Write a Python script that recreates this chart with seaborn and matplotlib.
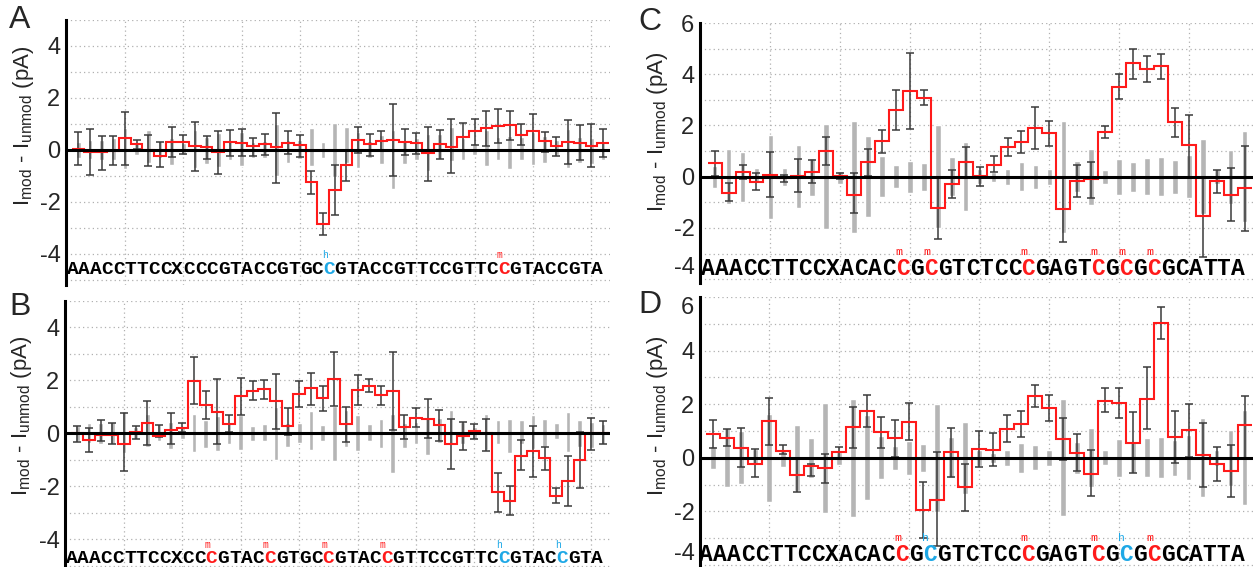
"""Current difference steps for four sequences, with error bars and noise range."""

import numpy as np
import seaborn as sns
import matplotlib.pyplot as plt
from matplotlib import font_manager

# sequences read along the bottom of each panel
seq_ab = "AAACCTTCCXCCCGTACCGTGCCGTACCGTTCCGTTCCGTACCGTA"
seq_cd = "AAACCTTCCXACACCGCGTCTCCCGAGTCGCGCGCATTA"

# (position, superscript) of the modified C's
marks_a = [(23, 'h'), (38, 'm')]
marks_b = [(13, 'm'), (18, 'm'), (23, 'm'), (28, 'm'), (38, 'h'), (43, 'h')]
marks_c = [(15, 'm'), (17, 'm'), (24, 'm'), (29, 'm'), (31, 'm'), (33, 'm')]
marks_d = [(15, 'm'), (17, 'h'), (24, 'm'), (29, 'm'), (31, 'h'), (33, 'm')]

# panel A: mean difference and error bar ends (pA)
a_val = [0.02, -0.08, -0.1, -0.05, 0.45, 0.22, 0.0, -0.23, 0.32, 0.32, 0.15, 0.1,
         -0.09, 0.32, 0.28, 0.15, 0.23, 0.1, 0.28, 0.18, -1.25, -2.85, -1.56, -0.6,
         0.38, 0.22, 0.35, 0.38, 0.32, 0.26, -0.13, 0.22, 0.13, 0.51, 0.73, 0.83,
         0.92, 0.96, 0.58, 0.73, 0.36, 0.15, 0.29, 0.26, 0.15, 0.26]
a_lo = [-0.6, -0.96, -0.79, -0.58, -0.58, 0.05, -0.62, -0.65, -0.26, -0.15, -0.8, -0.36,
        -0.92, -0.23, -0.23, -0.23, -0.19, -1.28, -0.15, -0.26, -1.7, -3.28, -2.5, -1.2,
        -0.13, -0.23, -0.06, -1.0, -0.19, -0.15, -1.18, -0.36, -0.87, -0.06, 0.2, 0.15,
        0.26, 0.38, 0.2, -0.06, -0.1, -0.23, -0.54, -0.38, -0.64, -0.26]
a_hi = [0.68, 0.81, 0.55, 0.54, 1.44, 0.4, 0.58, 0.3, 0.9, 0.58, 1.06, 0.55,
        0.73, 0.77, 0.8, 0.47, 0.6, 1.41, 0.73, 0.58, -0.8, -2.41, -0.6, 0.0,
        0.87, 0.6, 0.73, 1.77, 0.8, 0.64, 0.9, 0.77, 1.18, 1.03, 1.19, 1.51,
        1.56, 1.51, 1.0, 1.37, 0.7, 0.51, 1.15, 0.96, 1.0, 0.8]

# panel B
b_val = [0.0, -0.25, -0.04, -0.04, -0.38, 0.06, 0.4, -0.09, 0.13, 0.19, 1.99, 1.09,
         0.82, 0.34, 1.42, 1.61, 1.66, 1.22, 0.28, 1.48, 1.7, 1.35, 2.05, 0.35,
         1.65, 1.81, 1.44, 1.6, 0.25, 0.6, 0.56, 0.31, -0.38, -0.1, 0.08, 0.02,
         -2.22, -2.54, -0.84, -0.66, -0.94, -2.35, -1.79, -1.0, 0.0, 0.0]
b_lo = [-0.31, -0.69, -0.28, -0.38, -1.41, -0.19, -0.44, -0.13, -0.4, 0.06, 1.13, 0.54,
        -0.38, 0.04, 0.69, 1.26, 1.3, 0.16, -0.06, 1.0, 1.07, 0.86, 1.03, -0.31,
        1.06, 1.56, 1.06, 0.12, -0.19, 0.25, -0.16, -0.28, -1.34, -0.63, -0.21, -0.65,
        -2.96, -3.06, -1.38, -1.63, -1.38, -2.63, -2.75, -2.06, -0.63, -0.41]
b_hi = [0.28, 0.19, 0.5, 0.4, 0.79, 0.29, 1.22, 0.31, 0.78, 0.4, 2.87, 1.61,
        2.04, 0.69, 2.11, 1.97, 2.01, 2.24, 0.97, 1.97, 2.29, 1.79, 3.08, 1.0,
        2.22, 2.06, 1.81, 3.09, 0.69, 0.96, 1.31, 0.88, 0.56, 0.44, 0.34, 0.54,
        -1.48, -1.98, -0.23, 0.28, -0.5, -2.06, -0.84, 0.06, 0.59, 0.46]

# panel C
c_val = [0.53, -0.64, 0.19, -0.19, 0.08, -0.06, 0.04, 0.19, 0.99, 0.02, -0.7, 0.56, 1.38,
         2.6, 3.35, 3.09, -1.23, -0.29, 0.56, 0.04, 0.47, 1.17, 1.36, 1.92, 1.69, -1.26,
         -0.16, -0.09, 1.75, 3.52, 4.42, 4.19, 4.32, 2.14, 1.23, -1.55, -0.16, -0.7, -0.45]
c_lo = [0.04, -0.96, -0.09, -0.51, -0.78, -0.19, -0.61, -0.26, 0.47, -0.09, -1.43, 0.04, 0.92,
        1.82, 1.86, 2.79, -2.43, -0.83, -0.02, -0.35, 0.17, 0.82, 0.91, 1.1, 1.21, -2.53,
        -0.81, -0.83, 1.53, 3.03, 3.81, 3.68, 3.83, 1.56, 0.0, -3.12, -0.64, -1.74, -2.13]
c_hi = [1.02, -0.26, 0.45, 0.14, 0.97, 0.08, 0.71, 0.66, 1.56, 0.14, 0.13, 1.08, 1.83,
        3.39, 4.84, 3.38, -0.03, 0.27, 1.14, 0.39, 0.82, 1.53, 1.79, 2.73, 2.18, -0.03,
        0.45, 0.58, 1.96, 4.0, 4.97, 4.71, 4.78, 2.7, 2.42, 0.0, 0.27, 0.32, 1.21]

# panel D
d_val = [0.9, 0.75, 0.38, -0.22, 1.38, 0.25, -0.66, -0.31, -0.38, 0.21, 1.13, 1.73, 0.96,
         0.75, 1.35, -1.94, -1.56, 0.21, -1.09, 0.34, 0.29, 1.09, 1.25, 2.31, 1.85, 0.71,
         0.19, -0.59, 2.13, 2.06, 0.54, 2.21, 5.04, 0.78, 1.04, 0.09, -0.25, -0.5, 1.23]
d_lo = [0.38, 0.44, -0.35, -0.73, 0.46, 0.13, -1.28, -0.69, -0.96, 0.0, 0.38, 1.13, 0.38,
        0.04, 0.66, -2.98, -3.31, -0.73, -1.98, -0.35, -0.31, 0.59, 0.79, 1.9, 1.38, -0.1,
        -0.48, -1.44, 1.69, 1.5, -0.56, 1.06, 4.44, -0.21, 0.03, -1.09, -0.88, -1.46, 0.0]
d_hi = [1.4, 1.06, 1.1, 0.31, 2.23, 0.48, -0.05, -0.25, 0.15, 0.4, 1.88, 2.34, 1.53,
        1.41, 2.03, -0.9, 0.21, 1.1, -0.23, 1.0, 0.91, 1.59, 1.75, 2.73, 2.35, 1.5,
        0.88, 0.29, 2.6, 2.59, 1.69, 3.38, 5.63, 1.75, 2.0, 1.29, 0.41, 0.48, 2.29]

# grey noise range, shared by panels on the same sequence
gray_ab_lo = [-0.3, -0.35, -0.4, -0.4, -0.72, -0.2, -0.5, -0.3, -0.6, -0.2, -0.7, -0.55,
              -0.65, -0.4, -0.63, -0.3, -0.3, -1.0, -0.5, -0.35, -0.63, -0.3, -1.05, -0.5,
              -0.68, -0.3, -0.56, -1.5, -0.55, -0.4, -0.81, -0.35, -0.44, -0.4, -0.2, -0.62,
              -0.4, -0.75, -0.4, -0.6, -0.5, -0.2, -0.7, -0.5, -0.55, -0.4]
gray_ab_hi = [0.3, 0.38, 0.4, 0.45, 0.85, 0.25, 0.75, 0.35, 0.45, 0.25, 0.75, 0.5,
              0.65, 0.4, 0.68, 0.3, 0.35, 1.0, 0.38, 0.38, 0.85, 0.32, 1.05, 0.9,
              0.68, 0.35, 0.56, 0.75, 0.4, 0.45, 0.62, 0.6, 0.9, 0.45, 0.25, 0.75,
              0.5, 0.55, 0.5, 0.68, 0.55, 0.38, 0.82, 0.5, 0.45, 0.35]
gray_cd_lo = [-0.43, -1.08, -0.97, -0.24, -1.65, -0.35, -1.24, -0.74, -2.05, -0.28, -2.2,
              -1.58, -0.79, -0.45, -0.64, -0.55, -2.02, -0.76, -1.35, -0.3, -0.19, -0.31,
              -0.57, -0.47, -0.31, -2.18, -0.6, -1.1, -0.29, -0.71, -0.58, -0.71, -0.77,
              -0.68, -0.84, -1.46, -0.3, -1.05, -1.76]
gray_cd_hi = [0.42, 1.1, 0.98, 0.33, 1.64, 0.32, 1.22, 0.74, 2.05, 0.22, 2.18,
              1.58, 0.8, 0.45, 0.63, 0.52, 2.0, 0.78, 1.35, 0.3, 0.18, 0.3,
              0.56, 0.46, 0.3, 2.18, 0.6, 1.1, 0.28, 0.7, 0.58, 0.72, 0.76,
              0.67, 0.84, 1.47, 0.3, 1.05, 1.77]

RED = '#ff1a1a'
BLUE = '#1ea8e6'
GREY = '#b5b5b5'

sns.set_style('white')
names = {f.name for f in font_manager.fontManager.ttflist}
sans = 'Liberation Sans Narrow' if 'Liberation Sans Narrow' in names else 'Liberation Sans'
plt.rcParams['font.family'] = [sans, 'DejaVu Sans']
plt.rcParams['mathtext.fontset'] = 'custom'
plt.rcParams['mathtext.rm'] = sans
plt.rcParams['mathtext.it'] = sans

fig = plt.figure(figsize=(12.53, 5.67), dpi=100)
W, H = 1253, 567


def px_axes(left, top, right, bottom):
    return fig.add_axes([left / W, 1 - bottom / H, (right - left) / W, (bottom - top) / H])


def draw_panel(ax, seq, marks, val, lo, hi, glo, ghi, xlim, ylim, yticks,
               letter_y, seq_size, label_pos):
    n = len(seq)
    pos = np.arange(1, n + 1)
    val, lo, hi = np.array(val), np.array(lo), np.array(hi)
    glo, ghi = np.array(glo), np.array(ghi)

    # grey noise bars
    ax.bar(pos, ghi - glo, bottom=glo, width=0.4, color=GREY, zorder=2)
    # error bars
    ax.errorbar(pos, (lo + hi) / 2, yerr=(hi - lo) / 2, fmt='none', ecolor='#3a3a3a',
                elinewidth=1.1, capsize=3.2, capthick=1.1, zorder=3)
    # red step trace, one bin per base
    ax.stairs(val, np.arange(n + 1) + 0.5, baseline=None, color=RED, lw=1.5, zorder=4)
    ax.axhline(0, color='black', lw=2.2, zorder=5)

    # sequence along the bottom
    colored = dict(marks)
    for i, ch in enumerate(seq, start=1):
        c = 'black'
        if i in colored:
            c = RED if colored[i] == 'm' else BLUE
            ax.annotate(colored[i], xy=(i - 0.5, letter_y), xytext=(-3, seq_size * 0.72),
                        textcoords='offset points', ha='center', va='center',
                        family='Liberation Mono', fontsize=seq_size * 0.5, color=c,
                        zorder=6)
        ax.text(i - 0.5, letter_y, ch, ha='center', va='center', family='Liberation Mono',
                weight='bold', fontsize=seq_size, color=c, zorder=6)

    ax.set_yticks(yticks)
    ax.set_yticks(np.arange(yticks[0] - 1, yticks[-1] + 2, 1), minor=True)
    ax.set_yticklabels([f'{t:g}' for t in yticks])
    ax.set_xticks(np.arange(5, n, 5))
    ax.set_xticklabels([])
    ax.set_xlim(*xlim)
    ax.set_ylim(*ylim)
    ax.tick_params(axis='x', length=0)
    ax.tick_params(axis='y', which='both', direction='in', length=4, width=1.2,
                   labelsize=17, pad=4)
    ax.grid(True, which='both', axis='both', ls=(0, (1, 2.5)), color='#b0b0b0', lw=0.9)
    ax.set_axisbelow(True)
    for s in ['top', 'right', 'bottom']:
        ax.spines[s].set_visible(False)
    ax.spines['left'].set_linewidth(2.2)
    ax.spines['left'].set_color('black')
    ax.set_ylabel(r'$\mathregular{I_{mod}}$ - $\mathregular{I_{unmod}}$ (pA)', fontsize=16)
    ax.yaxis.set_label_coords(*label_pos)


ax_a = px_axes(66, 20, 610, 285)
ax_b = px_axes(65, 301, 610, 567)
ax_c = px_axes(700, 23, 1253, 283)
ax_d = px_axes(700, 297, 1253, 567)

draw_panel(ax_a, seq_ab, marks_a, a_val, a_lo, a_hi, gray_ab_lo, gray_ab_hi,
           (-0.05, 46.6), (-5.2, 5), [-4, -2, 0, 2, 4], -4.6, 14, (-0.056, 0.6))
draw_panel(ax_b, seq_ab, marks_b, b_val, b_lo, b_hi, gray_ab_lo, gray_ab_hi,
           (-0.05, 46.6), (-5.04, 5), [-4, -2, 0, 2, 4], -4.72, 14, (-0.056, 0.57))
draw_panel(ax_c, seq_cd, marks_c, c_val, c_lo, c_hi, gray_cd_lo, gray_cd_hi,
           (-0.05, 39.6), (-4.15, 6), [-4, -2, 0, 2, 4, 6], -3.6, 16.5, (-0.054, 0.58))
draw_panel(ax_d, seq_cd, marks_d, d_val, d_lo, d_hi, gray_cd_lo, gray_cd_hi,
           (0.05, 39.6), (-4.08, 6), [-4, -2, 0, 2, 4, 6], -3.62, 16.5, (-0.054, 0.56))

# the edge labels of the right panels sit slightly inside, as in the original
ax_c.yaxis.get_major_ticks()[0].label1.set_va('bottom')
ax_d.yaxis.get_major_ticks()[0].label1.set_va('bottom')
ax_d.yaxis.get_major_ticks()[-1].label1.set_va('top')

for letter, x, y in [('A', 20, 20), ('B', 20, 307), ('C', 650, 22), ('D', 650, 305)]:
    fig.text(x / W, 1 - y / H, letter, ha='center', va='center', fontsize=23,
             family='Liberation Sans')

fig.savefig('out.png', dpi=100)
